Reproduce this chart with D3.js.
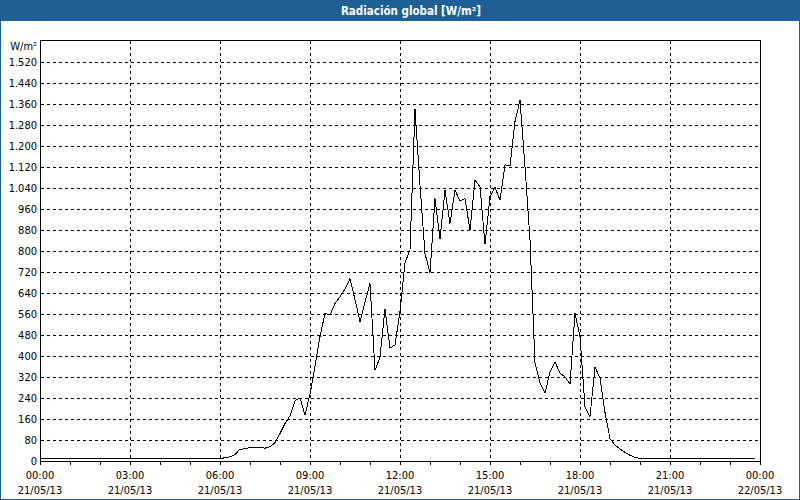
<!DOCTYPE html>
<html>
<head>
<meta charset="utf-8">
<script src="https://cdn.jsdelivr.net/npm/d3@7"></script>
<style>
  html, body { margin: 0; padding: 0; background: #ffffff; }
  svg { display: block; }
  text { font-family: "DejaVu Sans Condensed", "DejaVu Sans", sans-serif; font-stretch: condensed; }
</style>
</head>
<body>
<svg id="chart" width="800" height="500"></svg>
<script>
// ---- data (10-minute values, 21/05/13 00:00 .. 23:50) ----
const title = "Radiación global [W/m²]";
const unitLabel = "W/m²";
const startTime = "2013-05-21T00:00:00";
const stepMinutes = 10;
const nightBefore = [10,10,10,10,10,10,10,10,10,10,10,10,10,10,10,10,10,10,
                     10,10,10,10,10,10,10,10,10,10,10,10,10,10,10,10,10,10];
const dayValues = [10,12,16,25,45,46,52,53,52,49,54,70,
                   105,143,172,230,240,175,255,360,474,563,556,600,
                   625,655,695,615,531,605,677,345,395,580,430,442,
                   569,755,805,1340,1050,790,717,1000,845,1032,905,1032,
                   990,1000,880,1070,1045,825,1007,1042,994,1128,1125,1293,
                   1375,1121,842,372,296,258,340,378,334,321,293,563,
                   474,207,169,359,315,185,85,61,46,33,22,14];
const nightAfter = [10,10,10,10,10,10,10,10,10,10,10,10,
                    10,10,10,10,10,10,10,10,10,10,10,10];
const yTicks = [0,80,160,240,320,400,480,560,640,720,800,880,960,1040,1120,1200,1280,1360,1440,1520];
const xTickHours = [0,3,6,9,12,15,18,21,24];
const xTickTimes = ["00:00","03:00","06:00","09:00","12:00","15:00","18:00","21:00","00:00"];
const xTickDates = ["21/05/13","21/05/13","21/05/13","21/05/13","21/05/13","21/05/13","21/05/13","21/05/13","22/05/13"];

(function () {
const values = nightBefore.concat(dayValues, nightAfter);
const t0 = new Date(startTime);
const data = values.map((v, i) => ({ t: new Date(t0.getTime() + i * stepMinutes * 60000), v }));

// ---- layout ----
const W = 800, H = 500;
const blue = "#1e5f96";
const pL = 40, pR = 760, pT = 41, pB = 461;

const svg = d3.select("#chart");

// outer frame
svg.append("rect").attr("x", 0.5).attr("y", 0.5).attr("width", W - 1).attr("height", H - 1)
  .attr("fill", "#ffffff").attr("stroke", blue).attr("stroke-width", 1);
// title bar
svg.append("rect").attr("x", 0).attr("y", 0).attr("width", W).attr("height", 21).attr("fill", blue);
svg.append("text").attr("x", 411).attr("y", 11).attr("text-anchor", "middle")
  .attr("dominant-baseline", "central").attr("fill", "#ffffff")
  .attr("font-size", "11.5px").attr("font-weight", "bold").text(title);

const x = d3.scaleTime()
  .domain([t0, new Date(t0.getTime() + 24 * 3600000)])
  .range([pL, pR]);
const y = d3.scaleLinear().domain([0, 1600]).range([pB, pT]);

const fmt = d3.formatLocale({ decimal: ",", thousands: ".", grouping: [3], currency: ["", ""] }).format(",d");
const hourDate = h => new Date(t0.getTime() + h * 3600000);

// horizontal grid
const g = svg.append("g").attr("shape-rendering", "crispEdges");
g.selectAll("line.hg").data(yTicks.filter(d => d > 0)).join("line")
  .attr("class", "hg")
  .attr("x1", pL + 1).attr("x2", pR)
  .attr("y1", d => Math.round(y(d)) + 0.5).attr("y2", d => Math.round(y(d)) + 0.5)
  .attr("stroke", "#000").attr("stroke-dasharray", "3,3");
// vertical grid
g.selectAll("line.vg").data(xTickHours.filter(h => h > 0 && h < 24)).join("line")
  .attr("class", "vg")
  .attr("x1", h => Math.round(x(hourDate(h))) + 0.5).attr("x2", h => Math.round(x(hourDate(h))) + 0.5)
  .attr("y1", pT).attr("y2", pB)
  .attr("stroke", "#000").attr("stroke-dasharray", "3,3");

// plot frame
svg.append("rect").attr("x", pL + 0.5).attr("y", pT - 0.5)
  .attr("width", pR - pL).attr("height", pB - pT + 0.5)
  .attr("fill", "none").attr("stroke", "#000").attr("shape-rendering", "crispEdges");

// y axis labels
svg.append("g").selectAll("text").data(yTicks).join("text")
  .attr("x", 37).attr("y", d => y(d)).attr("text-anchor", "end")
  .attr("dominant-baseline", "central").attr("font-size", "11px").attr("fill", "#000")
  .text(d => fmt(d));
svg.append("text").attr("x", 37).attr("y", 46).attr("text-anchor", "end")
  .attr("dominant-baseline", "central").attr("font-size", "11px").attr("fill", "#000")
  .text(unitLabel);

// x axis minor ticks (hourly)
const hours = d3.range(0, 25);
svg.append("g").attr("shape-rendering", "crispEdges").selectAll("line").data(hours).join("line")
  .attr("x1", h => Math.round(x(hourDate(h))) + 0.5).attr("x2", h => Math.round(x(hourDate(h))) + 0.5)
  .attr("y1", pB).attr("y2", pB + 4).attr("stroke", "#000");

// x axis labels
const xl = svg.append("g");
xl.selectAll("text.t").data(xTickHours).join("text").attr("class", "t")
  .attr("x", h => x(hourDate(h))).attr("y", 475.5).attr("text-anchor", "middle")
  .attr("dominant-baseline", "central").attr("font-size", "11px").attr("fill", "#000")
  .text((h, i) => xTickTimes[i]);
xl.selectAll("text.d").data(xTickHours).join("text").attr("class", "d")
  .attr("x", h => x(hourDate(h))).attr("y", 490.5).attr("text-anchor", "middle")
  .attr("dominant-baseline", "central").attr("font-size", "11px").attr("fill", "#000")
  .text((h, i) => xTickDates[i]);

// data line
const line = d3.line().x(d => x(d.t)).y(d => y(d.v));
svg.append("path").datum(data).attr("d", line)
  .attr("fill", "none").attr("stroke", "#000").attr("stroke-width", 1)
  .attr("shape-rendering", "crispEdges")
  .attr("stroke-linejoin", "miter");
})();
</script>
</body>
</html>
